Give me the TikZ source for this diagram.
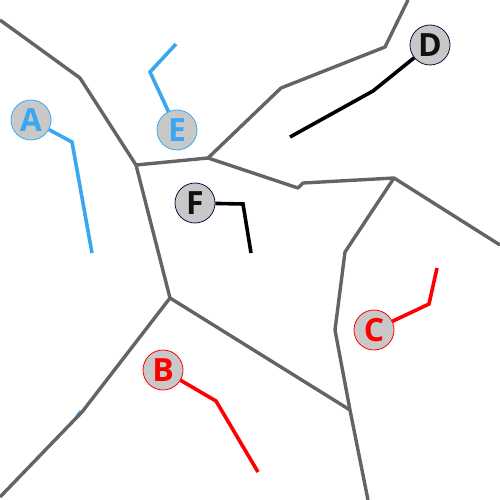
\documentclass[tikz,border=0pt]{standalone}
\usepackage{fontspec}
\setmainfont{Open Sans}
\definecolor{edgegray}{HTML}{646464}
\definecolor{bluec}{HTML}{3AA8F0}
\definecolor{redc}{HTML}{FF0000}
\definecolor{blackc}{HTML}{111111}
\definecolor{discfill}{HTML}{C8C8C8}
\begin{document}
\begin{tikzpicture}[x=1pt,y=-1pt,
  edge/.style={draw=edgegray,line width=3.4pt,line join=round},
  trail/.style={line width=3.6pt,line join=miter},
  lab/.style={circle,fill=discfill,line width=0.8pt,minimum size=40pt,inner sep=0pt,font=\fontsize{32}{32}\selectfont\bfseries}]
\useasboundingbox (0,0) rectangle (500,500);
% gray cell edges
\coordinate (g1) at (0,20);
\coordinate (g2) at (80,78);
\coordinate (g3) at (136,165);
\coordinate (g4) at (208,158);
\coordinate (g5) at (281,88);
\coordinate (g6) at (385,47);
\coordinate (g7) at (408,0);
\coordinate (g8) at (298,188);
\coordinate (g9) at (303,183);
\coordinate (g10) at (394,178);
\coordinate (g11) at (500,245);
\coordinate (g12) at (345,252);
\coordinate (g13) at (335,330);
\coordinate (g14) at (350,410);
\coordinate (g15) at (368,500);
\coordinate (g16) at (170,298);
\coordinate (g17) at (82,412);
\coordinate (g18) at (0,497);
\coordinate (bl1) at (75,419);
\coordinate (bl2) at (81,411);
\draw[bluec,line width=3pt] (bl1) -- (bl2);
\draw[edge] (g1) -- (g2) -- (g3) -- (g4) -- (g5) -- (g6) -- (g7);
\draw[edge] (g4) -- (g8) -- (g9) -- (g10) -- (g11);
\draw[edge] (g10) -- (g12) -- (g13) -- (g14) -- (g15);
\draw[edge] (g3) -- (g16) -- (g14);
\draw[edge] (g16) -- (g17) -- (g18);
% labelled trails
\node[lab,draw=bluec,text=bluec] (A) at (31,120) {A};
\node[lab,draw=bluec,text=bluec] (E) at (177,130) {E};
\node[lab,draw=blackc!80!blue,text=blackc] (D) at (430,45) {D};
\node[lab,draw=blackc!80!blue,text=blackc] (F) at (195,203) {F};
\node[lab,draw=redc,text=redc] (B) at (163,370) {B};
\node[lab,draw=redc,text=redc] (C) at (374,330) {C};
\coordinate (a1) at (72,142); \coordinate (a2) at (92,253);
\coordinate (e1) at (150,72); \coordinate (e2) at (176,44);
\coordinate (d1) at (373,91); \coordinate (d2) at (290,137);
\coordinate (f1) at (243,204); \coordinate (f2) at (251,253);
\coordinate (b1) at (216,401); \coordinate (b2) at (258,472);
\coordinate (c1) at (429,304); \coordinate (c2) at (437,268);
\draw[trail,bluec] (A) -- (a1) -- (a2);
\draw[trail,bluec] (E) -- (e1) -- (e2);
\draw[trail,black] (D) -- (d1) -- (d2);
\draw[trail,black] (F) -- (f1) -- (f2);
\draw[trail,redc] (B) -- (b1) -- (b2);
\draw[trail,redc] (C) -- (c1) -- (c2);
\end{tikzpicture}
\end{document}
